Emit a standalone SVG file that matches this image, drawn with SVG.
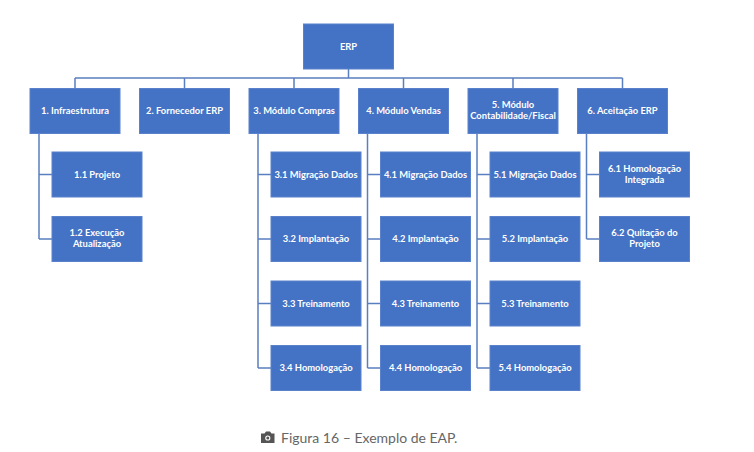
<svg xmlns="http://www.w3.org/2000/svg" width="754" height="452" viewBox="0 0 754 452">
<style>
.b{fill:#4472C4;stroke:#5a82cc;stroke-width:1}
.t{fill:#fff;font-family:Lato,"Liberation Sans",sans-serif;font-weight:bold;font-size:9.4px;text-anchor:middle}
.c{fill:none;stroke:#5a7fc0;stroke-width:1.5}
.cap{fill:#666;font-family:Lato,"Liberation Sans",sans-serif;font-size:14px}
</style>
<rect width="754" height="452" fill="#fff"/>
<g id="connectors" class="c">
<path d="M348.5 69V78M75 78H622.5M75 78V88.5M184.5 78V88.5M294 78V88.5M403.5 78V88.5M513 78V88.5M622.5 78V88.5"/>
<path d="M39 133.5V239M39 174.5H52M39 239H52"/>
<path d="M258 133.5V368M258 174.5H271M258 239H271M258 303.5H271M258 368H271"/>
<path d="M367.5 133.5V368M367.5 174.5H380.5M367.5 239H380.5M367.5 303.5H380.5M367.5 368H380.5"/>
<path d="M477 133.5V368M477 174.5H490M477 239H490M477 303.5H490M477 368H490"/>
<path d="M586.5 133.5V239M586.5 174.5H599.5M586.5 239H599.5"/>
</g>
<g id="erp"><rect class="b" x="303.5" y="24" width="90" height="45"/><text class="t" x="348.5" y="49.5">ERP</text></g>
<g id="n1"><rect class="b" x="30" y="88.5" width="90" height="45"/><text class="t" x="75" y="114">1. Infraestrutura</text></g>
<g id="n2"><rect class="b" x="139.5" y="88.5" width="90" height="45"/><text class="t" x="184.5" y="114">2. Fornecedor ERP</text></g>
<g id="n3"><rect class="b" x="249" y="88.5" width="90" height="45"/><text class="t" x="294" y="114">3. Módulo Compras</text></g>
<g id="n4"><rect class="b" x="358.5" y="88.5" width="90" height="45"/><text class="t" x="403.5" y="114">4. Módulo Vendas</text></g>
<g id="n5"><rect class="b" x="468" y="88.5" width="90" height="45"/><text class="t" x="513" y="108">5. Módulo</text><text class="t" x="513" y="119">Contabilidade/Fiscal</text></g>
<g id="n6"><rect class="b" x="577.5" y="88.5" width="90" height="45"/><text class="t" x="622.5" y="114">6. Aceitação ERP</text></g>
<g id="n11"><rect class="b" x="52" y="152" width="90" height="45"/><text class="t" x="97" y="177.5">1.1 Projeto</text></g>
<g id="n12"><rect class="b" x="52" y="216.5" width="90" height="45"/><text class="t" x="97" y="236">1.2 Execução</text><text class="t" x="97" y="247">Atualização</text></g>
<g id="n31"><rect class="b" x="271" y="152" width="90" height="45"/><text class="t" x="316" y="177.5">3.1 Migração Dados</text></g>
<g id="n32"><rect class="b" x="271" y="216.5" width="90" height="45"/><text class="t" x="316" y="242">3.2 Implantação</text></g>
<g id="n33"><rect class="b" x="271" y="281" width="90" height="45"/><text class="t" x="316" y="306.5">3.3 Treinamento</text></g>
<g id="n34"><rect class="b" x="271" y="345.5" width="90" height="45"/><text class="t" x="316" y="371">3.4 Homologação</text></g>
<g id="n41"><rect class="b" x="380.5" y="152" width="90" height="45"/><text class="t" x="425.5" y="177.5">4.1 Migração Dados</text></g>
<g id="n42"><rect class="b" x="380.5" y="216.5" width="90" height="45"/><text class="t" x="425.5" y="242">4.2 Implantação</text></g>
<g id="n43"><rect class="b" x="380.5" y="281" width="90" height="45"/><text class="t" x="425.5" y="306.5">4.3 Treinamento</text></g>
<g id="n44"><rect class="b" x="380.5" y="345.5" width="90" height="45"/><text class="t" x="425.5" y="371">4.4 Homologação</text></g>
<g id="n51"><rect class="b" x="490" y="152" width="90" height="45"/><text class="t" x="535" y="177.5">5.1 Migração Dados</text></g>
<g id="n52"><rect class="b" x="490" y="216.5" width="90" height="45"/><text class="t" x="535" y="242">5.2 Implantação</text></g>
<g id="n53"><rect class="b" x="490" y="281" width="90" height="45"/><text class="t" x="535" y="306.5">5.3 Treinamento</text></g>
<g id="n54"><rect class="b" x="490" y="345.5" width="90" height="45"/><text class="t" x="535" y="371">5.4 Homologação</text></g>
<g id="n61"><rect class="b" x="599.5" y="152" width="90" height="45"/><text class="t" x="644.5" y="171.5">6.1 Homologação</text><text class="t" x="644.5" y="182.5">Integrada</text></g>
<g id="n62"><rect class="b" x="599.5" y="216.5" width="90" height="45"/><text class="t" x="644.5" y="236">6.2 Quitação do</text><text class="t" x="644.5" y="247">Projeto</text></g>
<g id="caption">
<path d="M261 433.5h3.5l1.5-2h4l1.5 2h3v9.5h-13.5z" fill="#555"/>
<circle cx="267.8" cy="438" r="2.6" fill="#fff"/>
<circle cx="267.8" cy="438" r="1.5" fill="#555"/>
<text class="cap" x="281" y="442.5">Figura 16 – Exemplo de EAP.</text>
</g>
</svg>
